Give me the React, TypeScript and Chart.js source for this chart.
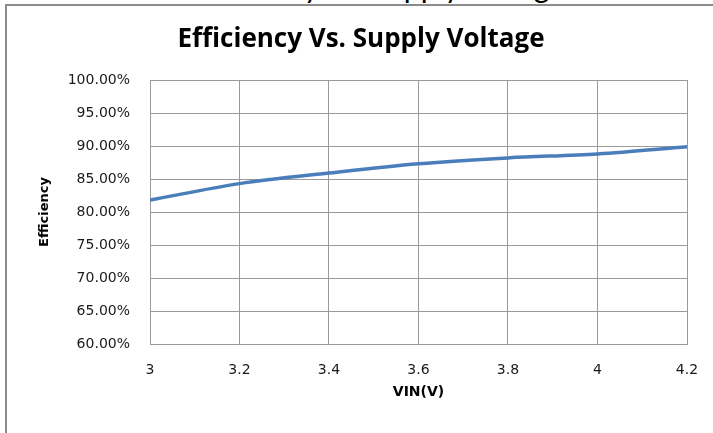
import React, { useEffect, useRef } from "react";
import { Chart, registerables } from "chart.js";

Chart.register(...registerables);

const vin = [3.0, 3.2, 3.4, 3.6, 3.8, 4.0, 4.2];
const efficiency = [81.8, 84.3, 85.9, 87.3, 88.2, 88.8, 89.9];
const xTickValues = [3, 3.2, 3.4, 3.6, 3.8, 4, 4.2];
const yTickValues = [60, 65, 70, 75, 80, 85, 90, 95, 100];
const chartTitle = "Efficiency Vs. Supply Voltage";
const xTitle = "VIN(V)";
const yTitle = "Efficiency";

const GRID = "#9a9a9a";
const TICK_FONT = { family: "'DejaVu Sans', Verdana, sans-serif", size: 14 };

export default function App() {
  const ref = useRef<HTMLCanvasElement | null>(null);

  useEffect(() => {
    if (!ref.current) return;
    const chart = new Chart(ref.current, {
      type: "line",
      data: {
        datasets: [
          {
            label: yTitle,
            data: vin.map((v, i) => ({ x: v, y: efficiency[i] })),
            borderColor: "#4a7ebb",
            borderWidth: 3.5,
            pointRadius: 0,
            tension: 0.4,
            cubicInterpolationMode: "monotone",
            fill: false,
          },
        ],
      },
      options: {
        animation: false,
        responsive: false,
        maintainAspectRatio: false,
        layout: { padding: { top: 10, right: 26, bottom: 0, left: 35 } },
        plugins: {
          legend: { display: false },
          tooltip: { enabled: false },
          title: {
            display: true,
            text: chartTitle,
            color: "#000",
            font: { family: "'Open Sans', Lato, sans-serif", size: 26, weight: "bold", lineHeight: 1.2 },
            padding: { top: 14.4, bottom: 24.4 },
          },
        },
        scales: {
          x: {
            type: "linear",
            min: 3,
            max: 4.2,
            afterBuildTicks: (s: any) => {
              s.ticks = xTickValues.map((v) => ({ value: v }));
            },
            afterFit: (s: any) => {
              s.height = 89;
              s.paddingLeft = 0;
              s.paddingRight = 0;
            },
            grid: { color: GRID, lineWidth: 1, drawTicks: false },
            border: { color: GRID, width: 1 },
            ticks: {
              color: "#1a1a1a",
              font: TICK_FONT,
              padding: 18,
              maxRotation: 0,
              autoSkip: false,
              callback: (v: any) => String(Number(Number(v).toFixed(1))),
            },
            title: {
              display: true,
              text: xTitle,
              color: "#000",
              font: { family: "'DejaVu Sans', Verdana, sans-serif", size: 14, weight: "bold", lineHeight: 1.2 },
              padding: { top: 0, bottom: 32.6 },
            },
          },
          y: {
            type: "linear",
            min: 60,
            max: 100,
            afterBuildTicks: (s: any) => {
              s.ticks = yTickValues.map((v) => ({ value: v }));
            },
            afterFit: (s: any) => {
              s.width = 115;
            },
            grid: { color: GRID, lineWidth: 1, drawTicks: false },
            border: { color: GRID, width: 1 },
            ticks: {
              color: "#1a1a1a",
              font: TICK_FONT,
              padding: 20,
              autoSkip: false,
              callback: (v: any) => Number(v).toFixed(2) + "%",
            },
            title: {
              display: true,
              text: yTitle,
              color: "#000",
              font: { family: "'DejaVu Sans', Verdana, sans-serif", size: 13, weight: "bold", lineHeight: 1.2 },
              padding: { top: 2.2, bottom: 0 },
            },
          },
        },
      },
    });
    return () => chart.destroy();
  }, []);

  return (
    <div
      style={{
        position: "fixed",
        left: 0,
        top: 0,
        width: 713,
        height: 433,
        background: "#fff",
        overflow: "hidden",
      }}
    >
      <div
        style={{
          position: "absolute",
          left: 0,
          top: 0,
          width: 713,
          height: 4,
          overflow: "hidden",
        }}
      >
        <div
          style={{
            position: "absolute",
            left: 0,
            width: 713,
            top: -31.6,
            textAlign: "center",
            paddingLeft: 44,
            boxSizing: "border-box",
            fontFamily: "Lato, sans-serif",
            fontSize: 30,
            lineHeight: "36px",
            color: "#000",
            whiteSpace: "nowrap",
          }}
        >
          {chartTitle}
        </div>
      </div>
      <div
        style={{
          position: "absolute",
          left: 5,
          top: 4,
          width: 720,
          height: 440,
          borderLeft: "2px solid #8c8c8c",
          borderTop: "2px solid #8c8c8c",
        }}
      />
      <canvas
        ref={ref}
        width={713}
        height={433}
        style={{ position: "absolute", left: 0, top: 0, width: 713, height: 433 }}
      />
    </div>
  );
}
